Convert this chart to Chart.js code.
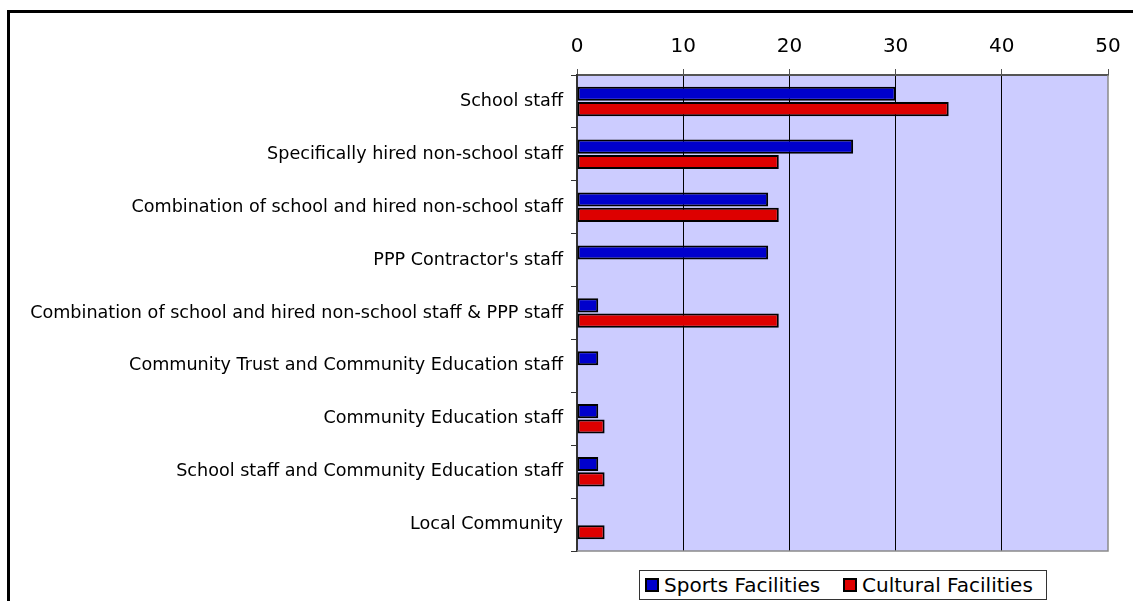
<!DOCTYPE html>
<html lang="en">
<head>
    <meta charset="UTF-8">
    <title>Staffing of Facilities</title>
    <script src="https://cdn.jsdelivr.net/npm/chart.js"></script>
    <style>
        body {
            margin: 0;
            padding: 0;
            background: #fff;
            font-family: "DejaVu Sans", Verdana, sans-serif;
        }

        .container {
            position: relative;
            width: 1133px;
            height: 601px;
            overflow: hidden;
        }

        .frame {
            position: absolute;
            left: 7px;
            top: 10px;
            width: 1200px;
            height: 700px;
            border-left: 3px solid #000;
            border-top: 3px solid #000;
        }

        #staffChart {
            position: absolute;
            left: 0;
            top: 0;
        }

        .legend {
            position: absolute;
            left: 639px;
            top: 570px;
            width: 406px;
            height: 28px;
            border: 1px solid #333;
            background: #fff;
            font-size: 20px;
            color: #000;
        }

        .legend .item {
            position: absolute;
            top: 0;
            height: 28px;
            display: flex;
            align-items: center;
            white-space: nowrap;
        }

        .legend .swatch {
            width: 10px;
            height: 10px;
            border: 2px solid #000;
            margin-right: 5px;
        }
    </style>
</head>
<body>
    <div class="container">
        <div class="frame"></div>
        <canvas id="staffChart" width="1133" height="601"></canvas>
        <div class="legend" id="legend"></div>
    </div>

    <script>
        const categories = [
            'School staff',
            'Specifically hired non-school staff',
            'Combination of school and hired non-school staff',
            "PPP Contractor's staff",
            'Combination of school and hired non-school staff & PPP staff',
            'Community Trust and Community Education staff',
            'Community Education staff',
            'School staff and Community Education staff',
            'Local Community'
        ];
        const sportsValues = [30, 26, 18, 18, 2, 2, 2, 2, null];
        const culturalValues = [35, 19, 19, null, 19, null, 2.6, 2.6, 2.6];
        const seriesNames = ['Sports Facilities', 'Cultural Facilities'];
        const seriesColors = ['#0000CC', '#DD0000'];
        const legendOffsets = [5, 203];

        const fontFamily = '"DejaVu Sans", Verdana, sans-serif';

        // lavender plot area with grey right/bottom edges
        const plotBackground = {
            id: 'plotBackground',
            beforeDraw(chart) {
                const { ctx, chartArea: a } = chart;
                ctx.save();
                ctx.fillStyle = '#CCCCFF';
                ctx.fillRect(a.left, a.top, a.right - a.left, a.bottom - a.top);
                ctx.restore();
            },
            afterDraw(chart) {
                const { ctx, chartArea: a } = chart;
                ctx.save();
                ctx.strokeStyle = '#8a8a8a';
                ctx.lineWidth = 1.5;
                ctx.beginPath();
                ctx.moveTo(a.right, a.top);
                ctx.lineTo(a.right, a.bottom);
                ctx.lineTo(a.left, a.bottom);
                ctx.stroke();
                ctx.restore();
            }
        };

        const ctx = document.getElementById('staffChart').getContext('2d');
        new Chart(ctx, {
            type: 'bar',
            data: {
                labels: categories,
                datasets: seriesNames.map((name, i) => ({
                    label: name,
                    data: i === 0 ? sportsValues : culturalValues,
                    backgroundColor: seriesColors[i],
                    borderColor: '#000',
                    borderWidth: 2,
                    borderSkipped: false,
                    categoryPercentage: 0.58,
                    barPercentage: 0.92
                }))
            },
            options: {
                indexAxis: 'y',
                responsive: false,
                animation: false,
                layout: { padding: { left: 0, top: 0, right: 25, bottom: 50 } },
                plugins: {
                    legend: { display: false },
                    tooltip: { enabled: false }
                },
                scales: {
                    x: {
                        position: 'top',
                        min: 0,
                        max: 50,
                        afterFit(scale) { scale.height = 75; },
                        ticks: {
                            stepSize: 10,
                            padding: 10,
                            color: '#000',
                            font: { family: fontFamily, size: 20 }
                        },
                        grid: {
                            color: c => (c.tick && (c.tick.value === 0 || c.tick.value === 50)) ? 'rgba(0,0,0,0)' : '#000',
                            tickColor: '#555',
                            tickLength: 6,
                            lineWidth: 1
                        },
                        border: { color: '#555', width: 2 }
                    },
                    y: {
                        afterFit(scale) { scale.width = 577; },
                        ticks: {
                            padding: 8,
                            color: '#000',
                            font: { family: fontFamily, size: 17.6 }
                        },
                        grid: {
                            offset: true,
                            drawOnChartArea: false,
                            tickLength: 6,
                            tickColor: '#333'
                        },
                        border: { color: '#333', width: 2 }
                    }
                }
            },
            plugins: [plotBackground]
        });

        // legend drawn as a boxed strip under the plot
        const legend = document.getElementById('legend');
        seriesNames.forEach((name, i) => {
            const item = document.createElement('div');
            item.className = 'item';
            item.style.left = legendOffsets[i] + 'px';
            const swatch = document.createElement('span');
            swatch.className = 'swatch';
            swatch.style.background = seriesColors[i];
            item.appendChild(swatch);
            item.appendChild(document.createTextNode(name));
            legend.appendChild(item);
        });
    </script>
</body>
</html>
